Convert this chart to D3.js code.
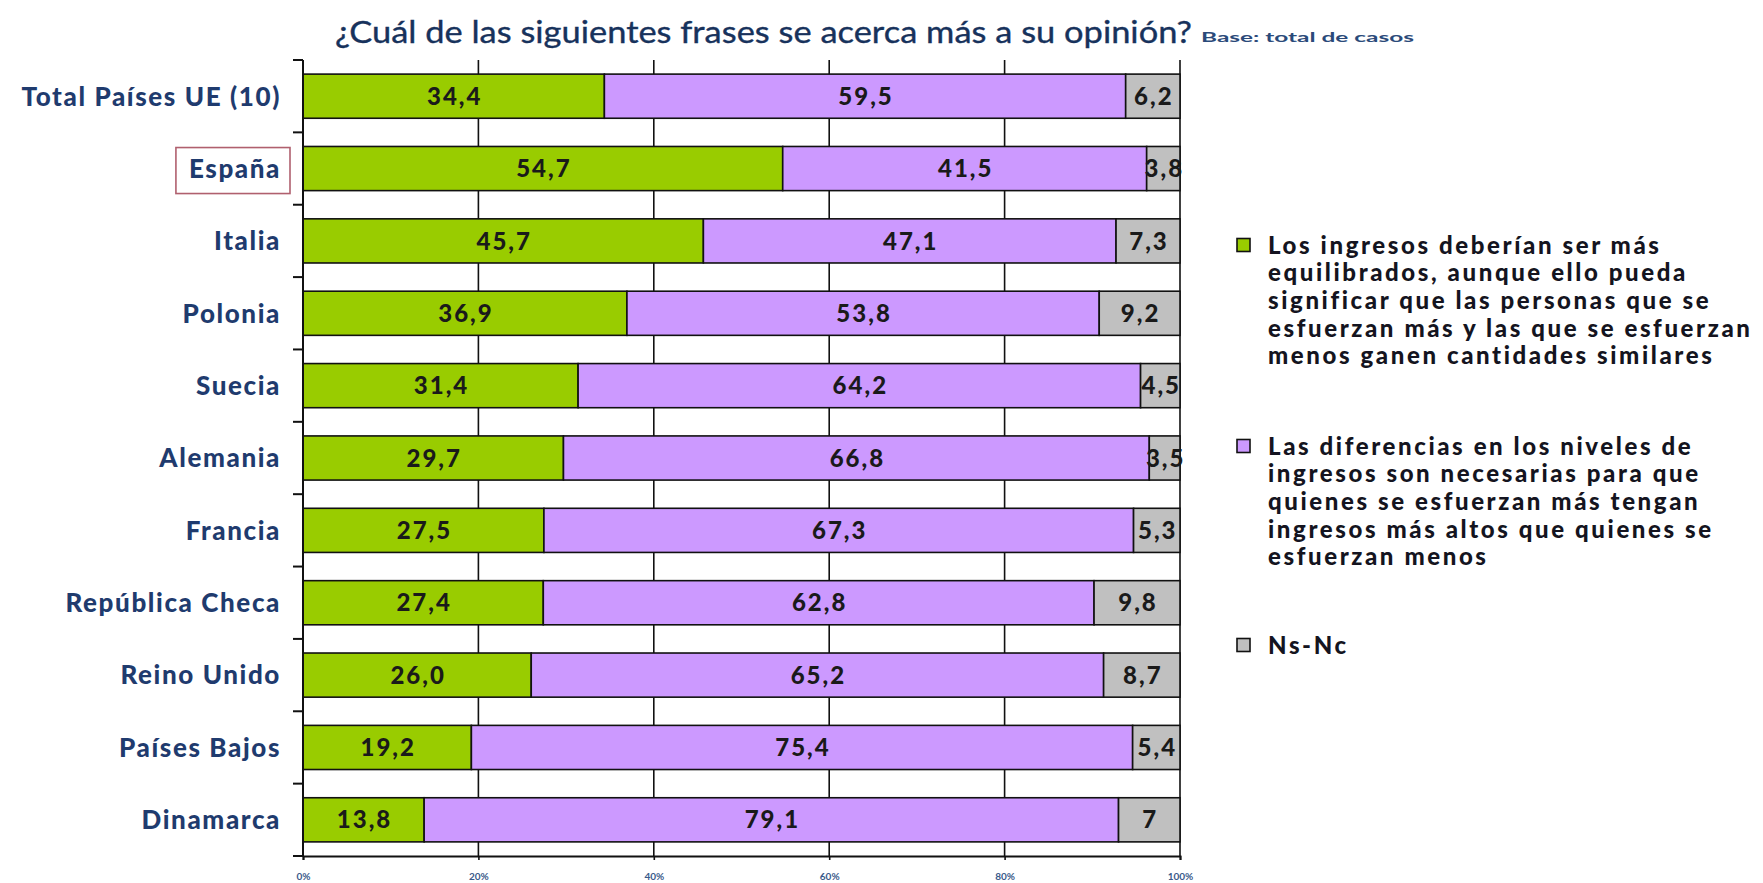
<!DOCTYPE html>
<html>
<head>
<meta charset="utf-8">
<script src="https://cdn.jsdelivr.net/npm/d3@7"></script>
<style>
  html, body { margin: 0; padding: 0; background: #fff; }
  svg { display: block; }
  text { font-family: Lato, "Open Sans", sans-serif; }
</style>
</head>
<body>
<svg id="chart" width="1763" height="883"></svg>
<script>
// ---------- data ----------
const categories = ["Total Países UE (10)", "España", "Italia", "Polonia", "Suecia", "Alemania",
  "Francia", "República Checa", "Reino Unido", "Países Bajos", "Dinamarca"];
const seriesNames = [
  "Los ingresos deberían ser más equilibrados, aunque ello pueda significar que las personas que se esfuerzan más y las que se esfuerzan menos ganen cantidades similares",
  "Las diferencias en los niveles de ingresos son necesarias para que quienes se esfuerzan más tengan ingresos más altos que quienes se esfuerzan menos",
  "Ns-Nc"
];
const legendLines = [
  ["Los ingresos deberían ser más", "equilibrados, aunque ello pueda", "significar que las personas que se", "esfuerzan más y las que se esfuerzan", "menos ganen cantidades similares"],
  ["Las diferencias en los niveles de", "ingresos son necesarias para que", "quienes se esfuerzan más tengan", "ingresos más altos que quienes se", "esfuerzan menos"],
  ["Ns-Nc"]
];
const equilibrados = [34.4, 54.7, 45.7, 36.9, 31.4, 29.7, 27.5, 27.4, 26.0, 19.2, 13.8];
const diferencias  = [59.5, 41.5, 47.1, 53.8, 64.2, 66.8, 67.3, 62.8, 65.2, 75.4, 79.1];
const nsnc         = [6.2, 3.8, 7.3, 9.2, 4.5, 3.5, 5.3, 9.8, 8.7, 5.4, 7];
const valueLabels = [
  ["34,4","54,7","45,7","36,9","31,4","29,7","27,5","27,4","26,0","19,2","13,8"],
  ["59,5","41,5","47,1","53,8","64,2","66,8","67,3","62,8","65,2","75,4","79,1"],
  ["6,2","3,8","7,3","9,2","4,5","3,5","5,3","9,8","8,7","5,4","7"]
];
const xTicks = [0, 20, 40, 60, 80, 100];
const colors = ["#99cc00", "#cc99ff", "#c0c0c0"];
const titleText = "¿Cuál de las siguientes frases se acerca más a su opinión?";
const subTitleText = "Base: total de casos";
const highlighted = "España";

// ---------- layout ----------
const svg = d3.select("#chart");
const pLeft = 303, pRight = 1180, pTop = 60, pBottom = 856;

const x = d3.scaleLinear().domain([0, 100]).range([pLeft, pRight]);
const y = d3.scaleBand().domain(categories).range([pTop, pBottom])
  .paddingInner(0.39).paddingOuter(0.195);
const step = y.step();

// rows normalised to 100 % (100% stacked bars)
const rows = categories.map((c, i) => {
  const vals = [equilibrados[i], diferencias[i], nsnc[i]];
  const tot = d3.sum(vals);
  let acc = 0;
  return vals.map((v, k) => {
    const s = acc / tot * 100; acc += v;
    return {cat: c, k, x0: s, x1: acc / tot * 100, label: valueLabels[k][i]};
  });
});

// title
svg.append("text").attr("x", 335).attr("y", 43)
  .attr("font-size", 30).attr("fill", "#17325c")
  .attr("stroke", "#17325c").attr("stroke-width", 0.35)
  .attr("textLength", 857).attr("lengthAdjust", "spacingAndGlyphs")
  .text(titleText);
svg.append("text").attr("x", 1201).attr("y", 42)
  .attr("font-size", 14).attr("font-weight", "bold").attr("fill", "#2a4a7a")
  .attr("textLength", 213).attr("lengthAdjust", "spacingAndGlyphs")
  .text(subTitleText);

// gridlines
svg.append("g").selectAll("line").data(xTicks.filter(d => d > 0)).join("line")
  .attr("x1", d => x(d)).attr("x2", d => x(d))
  .attr("y1", pTop).attr("y2", pBottom)
  .attr("stroke", "#111").attr("stroke-width", 1.6);

// bars
const barG = svg.append("g");
rows.forEach(r => {
  barG.selectAll(null).data(r).join("rect")
    .attr("x", d => x(d.x0)).attr("width", d => x(d.x1) - x(d.x0))
    .attr("y", d => y(d.cat)).attr("height", y.bandwidth())
    .attr("fill", d => colors[d.k])
    .attr("stroke", "#111").attr("stroke-width", 1.6);
});
// value labels
rows.forEach(r => {
  barG.selectAll(null).data(r).join("text")
    .attr("x", d => (x(d.x0) + x(d.x1)) / 2 + 1)
    .attr("y", d => y(d.cat) + y.bandwidth() / 2)
    .attr("dy", "0.36em").attr("text-anchor", "middle")
    .attr("font-size", 24).attr("font-weight", 900)
    .attr("letter-spacing", 2).attr("fill", "#1a1a1a")
    .text(d => d.label);
});

// left axis (category boundaries)
const bounds = d3.range(categories.length + 1).map(i => pTop + i * step);
svg.append("line").attr("x1", pLeft).attr("x2", pLeft).attr("y1", pTop).attr("y2", pBottom)
  .attr("stroke", "#111").attr("stroke-width", 2);
svg.append("g").selectAll("line").data(bounds).join("line")
  .attr("x1", pLeft - 10).attr("x2", pLeft).attr("y1", d => d).attr("y2", d => d)
  .attr("stroke", "#111").attr("stroke-width", 2);

// bottom axis
const xAxis = svg.append("g").attr("transform", `translate(0,${pBottom})`)
  .call(d3.axisBottom(x).tickValues(xTicks).tickFormat(d => d + "%").tickSize(4).tickPadding(13));
xAxis.select(".domain").attr("stroke", "#111").attr("stroke-width", 2);
xAxis.selectAll(".tick line").attr("stroke", "#111").attr("stroke-width", 1.6);
xAxis.selectAll(".tick text").attr("font-family", "Lato, sans-serif")
  .attr("font-size", 10).attr("font-weight", "bold").attr("fill", "#3a5a8a");

// category labels
const catG = svg.append("g");
catG.selectAll("text").data(categories).join("text")
  .attr("x", 281).attr("y", d => y(d) + y.bandwidth() / 2)
  .attr("dy", "0.36em").attr("text-anchor", "end")
  .attr("font-size", 26).attr("font-weight", 900).attr("letter-spacing", 1.6)
  .attr("fill", "#1f3b6e")
  .text(d => d);

// highlight box
const hiNode = catG.selectAll("text").filter(d => d === highlighted).node();
const bb = hiNode.getBBox();
svg.append("rect")
  .attr("x", bb.x - 13).attr("y", y(highlighted) + y.bandwidth() / 2 - 21)
  .attr("width", 290 - (bb.x - 13)).attr("height", 46)
  .attr("fill", "none").attr("stroke", "#b0606e").attr("stroke-width", 1.6);

// legend
const legStarts = [245, 446, 645];
const lineH = 27.7;
const lg = svg.append("g");
seriesNames.forEach((name, k) => {
  lg.append("rect").attr("x", 1237).attr("y", legStarts[k] - 6.5)
    .attr("width", 13).attr("height", 13)
    .attr("fill", colors[k]).attr("stroke", "#111").attr("stroke-width", 1.6);
  const t = lg.append("text").attr("font-size", 24).attr("font-weight", 900)
    .attr("letter-spacing", 2.6).attr("fill", "#141420");
  legendLines[k].forEach((ln, j) => {
    t.append("tspan").attr("x", 1268).attr("y", legStarts[k] + j * lineH)
      .attr("dy", "0.36em").text(ln);
  });
});
</script>
</body>
</html>
